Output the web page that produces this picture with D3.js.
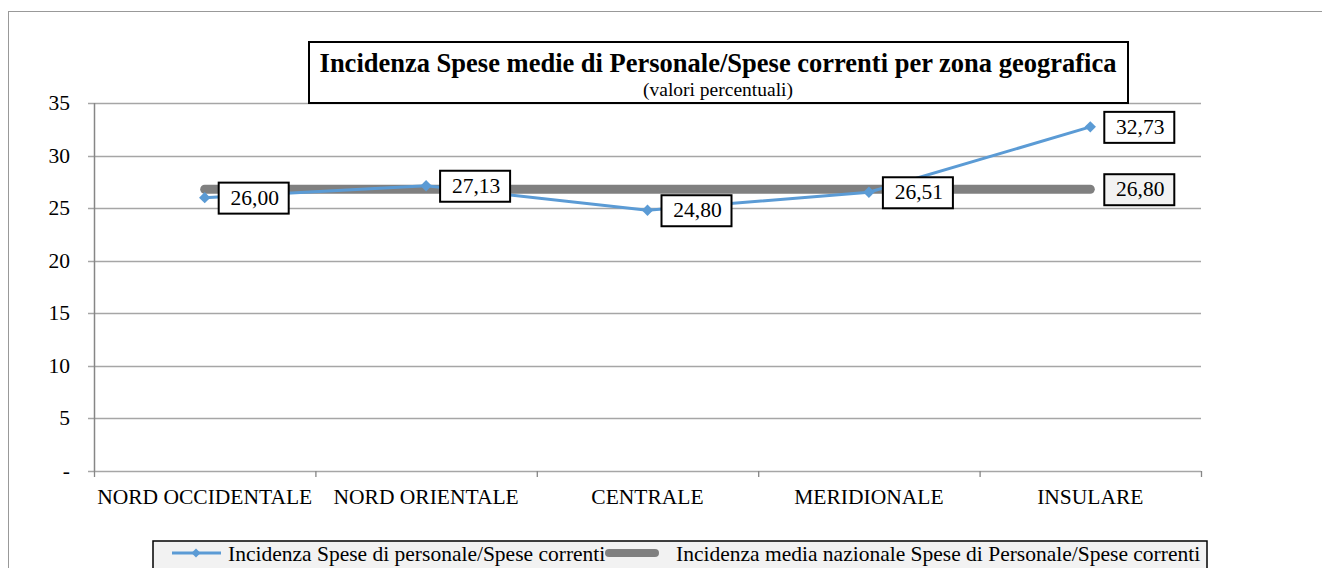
<!DOCTYPE html>
<html><head><meta charset="utf-8">
<script src="https://cdn.jsdelivr.net/npm/d3@7"></script>
<style>body{margin:0;background:#fff;} text{font-family:'Liberation Serif','Times New Roman',Times,serif;}</style>
</head><body>
<svg id="c" width="1322" height="568"></svg>
<script>
const categories = ["NORD OCCIDENTALE","NORD ORIENTALE","CENTRALE","MERIDIONALE","INSULARE"];
const seriesValues = [26.00, 27.13, 24.80, 26.51, 32.73];
const nationalAverage = [26.80, 26.80, 26.80, 26.80, 26.80];
const yTicks = [0,5,10,15,20,25,30,35];
const seriesNames = ["Incidenza Spese di personale/Spese correnti","Incidenza media nazionale Spese di Personale/Spese correnti"];
const title = "Incidenza Spese medie di Personale/Spese correnti per zona geografica";
const subtitle = "(valori percentuali)";
const fmt = v => v.toFixed(2).replace(".", ",");
const FONT = "'Liberation Serif','Times New Roman',Times,serif";
const FS = 21.5;

const svg = d3.select("#c").attr("font-family", FONT);
const L = 94, R = 1201, T = 103, B = 471;
const blue = "#5b9bd5", gray = "#808080";

svg.append("rect").attr("x",8.5).attr("y",11.5).attr("width",1400).attr("height",700)
  .attr("fill","none").attr("stroke","#999").attr("stroke-width",1);

const x = d3.scaleBand().domain(categories).range([L,R]).padding(0);
const y = d3.scaleLinear().domain([0,35]).range([B,T]);
const cx = d => x(d) + x.bandwidth()/2;

svg.append("g").selectAll("line").data(yTicks).join("line")
  .attr("x1",L-6).attr("x2",R).attr("y1",d=>Math.round(y(d))+0.5).attr("y2",d=>Math.round(y(d))+0.5)
  .attr("stroke","#a6a6a6").attr("stroke-width",1.3);

svg.append("line").attr("x1",L+0.5).attr("x2",L+0.5).attr("y1",T).attr("y2",B)
  .attr("stroke","#868686").attr("stroke-width",1.5);
const bounds = categories.map(c=>x(c)).concat([R]);
svg.append("g").selectAll("line").data(bounds).join("line")
  .attr("x1",d=>d+0.5).attr("x2",d=>d+0.5).attr("y1",B).attr("y2",B+6)
  .attr("stroke","#868686").attr("stroke-width",1.3);

svg.append("g").selectAll("text").data(yTicks).join("text")
  .attr("x",70).attr("y",d=>y(d)+7).attr("text-anchor","end")
  .attr("font-size",FS).attr("fill","#000").text(d=>d===0?"-":d);

svg.append("g").selectAll("text").data(categories).join("text")
  .attr("x",d=>cx(d)).attr("y",504).attr("text-anchor","middle")
  .attr("font-size",FS).attr("fill","#000").text(d=>d);

svg.append("path").datum(nationalAverage)
  .attr("d", d3.line().x((d,i)=>cx(categories[i])).y(d=>y(d)))
  .attr("fill","none").attr("stroke",gray).attr("stroke-width",9).attr("stroke-linecap","round");

svg.append("path").datum(seriesValues)
  .attr("d", d3.line().x((d,i)=>cx(categories[i])).y(d=>y(d)))
  .attr("fill","none").attr("stroke",blue).attr("stroke-width",3);
svg.append("g").selectAll("path").data(seriesValues).join("path")
  .attr("d", d3.symbol().type(d3.symbolSquare).size(64)())
  .attr("transform",(d,i)=>`translate(${cx(categories[i])},${y(d)}) rotate(45)`)
  .attr("fill",blue);

function label(xp, yp, text, fill){
  const g = svg.append("g");
  g.append("rect").attr("x",xp+14).attr("y",yp-15).attr("width",70).attr("height",31)
    .attr("fill",fill).attr("stroke","#000").attr("stroke-width",2);
  g.append("text").attr("x",xp+50).attr("y",yp+7).attr("text-anchor","middle")
    .attr("font-size",FS).attr("fill","#000").text(text);
}
seriesValues.forEach((v,i)=>label(cx(categories[i]), y(v), fmt(v), "#fff"));
const li = nationalAverage.length-1;
label(cx(categories[li]), y(nationalAverage[li]), fmt(nationalAverage[li]), "#f2f2f2");

svg.append("rect").attr("x",309).attr("y",42).attr("width",819).attr("height",61)
  .attr("fill","#fff").attr("stroke","#000").attr("stroke-width",2);
svg.append("text").attr("x",718).attr("y",72).attr("text-anchor","middle")
  .attr("font-size",26.5).attr("font-weight","bold").attr("fill","#000").text(title);
svg.append("text").attr("x",718).attr("y",96).attr("text-anchor","middle")
  .attr("font-size",19.5).attr("fill","#000").text(subtitle);

const lg = svg.append("g");
lg.append("rect").attr("x",153).attr("y",541).attr("width",1054).attr("height",40)
  .attr("fill","#f2f2f2").attr("stroke","#000").attr("stroke-width",1.5);
lg.append("line").attr("x1",172).attr("x2",221).attr("y1",553).attr("y2",553)
  .attr("stroke",blue).attr("stroke-width",3);
lg.append("path").attr("d", d3.symbol().type(d3.symbolSquare).size(40)())
  .attr("transform","translate(196,553) rotate(45)").attr("fill",blue);
lg.append("text").attr("x",228).attr("y",561).attr("font-size",FS).attr("fill","#000").text(seriesNames[0]);
lg.append("line").attr("x1",609).attr("x2",655).attr("y1",553).attr("y2",553)
  .attr("stroke",gray).attr("stroke-width",8).attr("stroke-linecap","round");
lg.append("text").attr("x",676).attr("y",561).attr("font-size",FS).attr("fill","#000").text(seriesNames[1]);
</script>
</body></html>
